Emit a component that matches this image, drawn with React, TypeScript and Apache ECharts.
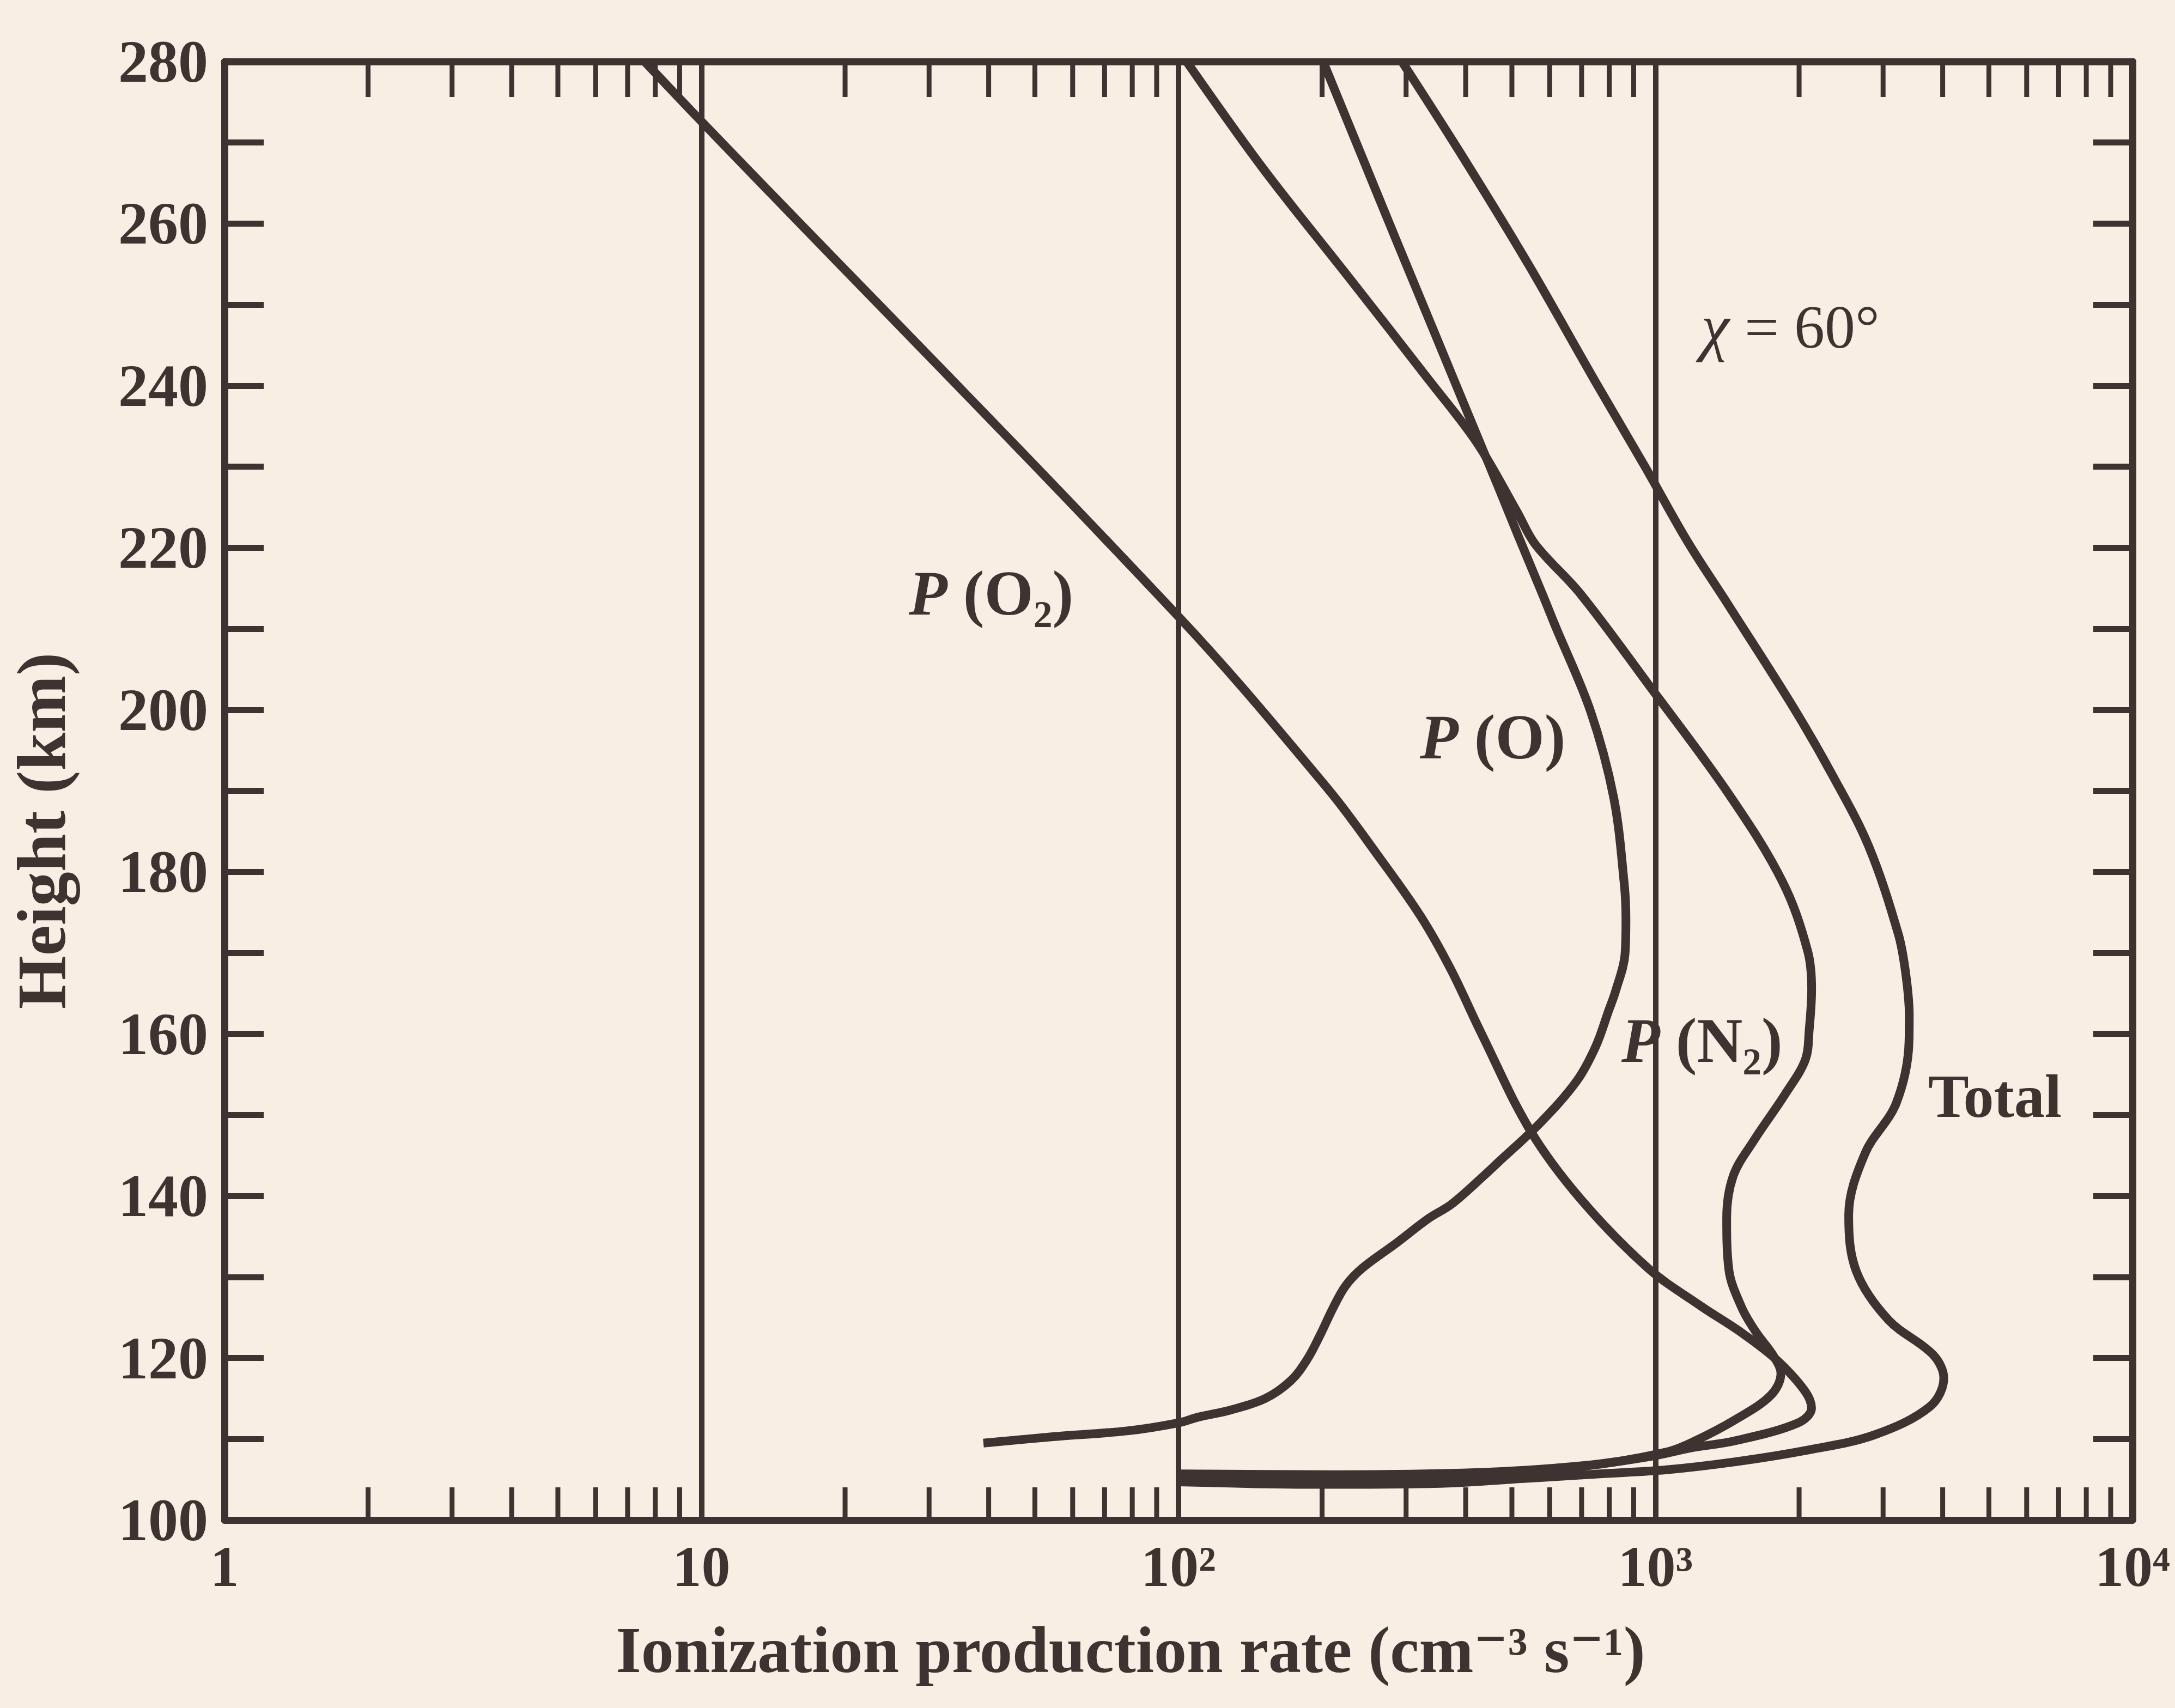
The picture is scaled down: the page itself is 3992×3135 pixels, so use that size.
import React, { useEffect, useRef } from 'react';
import * as echarts from 'echarts';

const INK = '#3d3330';
const PAPER = '#f8eee3';
const FONT = "'Liberation Serif', 'DejaVu Serif', serif";

// ---- data (rate in cm^-3 s^-1, height in km) ----
const pO2Rate = [7.6, 10, 100, 206, 262, 322, 372, 432, 546, 697, 964, 1238, 1517, 1800, 2058, 2124, 1991, 1473, 1186, 986, 729, 441, 208, 100];
const pO2Height = [280, 272.6, 211.5, 190.2, 182.0, 174.5, 168.0, 160.0, 148.1, 139.6, 131.1, 126.5, 123.1, 119.7, 115.9, 113.8, 112.0, 109.8, 108.9, 107.9, 106.8, 105.9, 105.6, 105.7];

const pORate = [201, 242, 285, 341, 420, 466, 516, 580, 614, 731, 817, 860, 867, 863, 824, 798, 750, 684, 573, 469, 435, 374, 334, 285, 243, 224, 211, 198, 186, 172, 152, 129, 110, 100, 78, 55, 39];
const pOHeight = [280, 268.4, 258.2, 247.1, 234.2, 227.8, 221.4, 214.2, 210.6, 199.8, 189.2, 178.5, 174.1, 169.8, 165.2, 162.9, 158.5, 154.2, 149.0, 144.2, 142.4, 139.0, 137.2, 134.1, 131.1, 128.9, 126.2, 122.8, 119.8, 117.2, 115.0, 113.6, 112.7, 112.0, 111.0, 110.3, 109.5];

const pN2Rate = [104, 150, 228, 336, 423, 513, 560, 696, 970, 1432, 1849, 2085, 2125, 2100, 2061, 1867, 1606, 1456, 1410, 1425, 1517, 1624, 1770, 1832, 1745, 1471, 1204, 1056, 700, 400, 200, 100];
const pN2Height = [280, 266.9, 253.3, 240.6, 232.9, 224.4, 220.4, 214.3, 203.0, 189.4, 178.7, 170.2, 165.5, 160.5, 156.8, 152.5, 146.8, 142.5, 137.3, 130.9, 126.2, 123.2, 120.2, 118.1, 115.4, 112.4, 109.7, 108.4, 106.6, 105.6, 105.2, 105.2];

const totalRate = [294, 391, 541, 748, 955, 1166, 1419, 1950, 2361, 2801, 3226, 3342, 3404, 3400, 3194, 2752, 2541, 2636, 3078, 3818, 4021, 3761, 2873, 2069, 1475, 1055, 764, 555, 344, 200, 100];
const totalHeight = [280, 268.6, 255.0, 240.5, 229.8, 220.8, 213.0, 200.2, 191.7, 183.1, 172.4, 167.7, 162.3, 159.1, 151.4, 145.3, 137.6, 130.7, 124.7, 120.4, 117.5, 114.0, 110.5, 108.6, 107.2, 106.2, 105.7, 105.2, 104.5, 104.4, 104.7];

// axis tick labels
const xTickLabels = ['1', '10', '10²', '10³', '10⁴'];
const minorMultipliers = [2, 3, 4, 5, 6, 7, 8, 9];
const decadeStarts = [1, 10, 100, 1000];
const heightMin = 100;
const heightMax = 280;

function pairs(xs: number[], ys: number[]) {
  return xs.map((x, i) => [x, ys[i]]);
}

export default function App() {
  const ref = useRef<HTMLDivElement>(null);

  useEffect(() => {
    if (!ref.current) return;
    const chart = echarts.init(ref.current, undefined, { renderer: 'svg' });

    const minorTicks: number[][] = [];
    decadeStarts.forEach((d) => minorMultipliers.forEach((m) => minorTicks.push([d * m, heightMin])));

    const lineSeries = (name: string, xs: number[], ys: number[]) => ({
      name,
      type: 'line',
      data: pairs(xs, ys),
      symbol: 'none',
      smooth: 0.35,
      clip: true,
      lineStyle: { color: INK, width: 16 },
      z: 5,
    });

    const axisLineStyle = { color: INK, width: 13 };
    const italicRich = { i: { fontStyle: 'italic', fontWeight: 'bold', fontSize: 116, fontFamily: FONT, fill: INK } };

    const option: any = {
      animation: false,
      backgroundColor: PAPER,
      grid: { left: 412, right: 78, top: 113, bottom: 345, containLabel: false },
      xAxis: [
        {
          type: 'log',
          logBase: 10,
          min: 1,
          max: 10000,
          position: 'bottom',
          axisLine: { show: true, onZero: false, lineStyle: axisLineStyle },
          axisTick: { show: false },
          axisLabel: {
            show: true,
            margin: 32,
            color: INK,
            fontFamily: FONT,
            fontSize: 106,
            fontWeight: 'bold',
            showMinLabel: true,
            showMaxLabel: true,
            formatter: (v: number) => xTickLabels[Math.round(Math.log10(v))] ?? '',
          },
          splitLine: { show: true, lineStyle: { color: INK, width: 10 } },
        },
        {
          type: 'log',
          logBase: 10,
          min: 1,
          max: 10000,
          position: 'top',
          axisLine: { show: true, onZero: false, lineStyle: axisLineStyle },
          axisTick: { show: false },
          axisLabel: { show: false },
          splitLine: { show: false },
        },
      ],
      yAxis: [
        {
          type: 'value',
          min: heightMin,
          max: heightMax,
          interval: 10,
          position: 'left',
          axisLine: { show: true, onZero: false, lineStyle: axisLineStyle },
          axisTick: { show: true, inside: true, length: 72, lineStyle: { color: INK, width: 11 } },
          axisLabel: {
            show: true,
            margin: 30,
            color: INK,
            fontFamily: FONT,
            fontSize: 110,
            fontWeight: 'bold',
            formatter: (v: number) => (v % 20 === 0 ? String(v) : ''),
          },
          splitLine: { show: false },
        },
        {
          type: 'value',
          min: heightMin,
          max: heightMax,
          interval: 10,
          position: 'right',
          axisLine: { show: true, onZero: false, lineStyle: axisLineStyle },
          axisTick: { show: true, inside: true, length: 72, lineStyle: { color: INK, width: 11 } },
          axisLabel: { show: false },
          splitLine: { show: false },
        },
      ],
      series: [
        lineSeries('P(O2)', pO2Rate, pO2Height),
        lineSeries('P(O)', pORate, pOHeight),
        lineSeries('P(N2)', pN2Rate, pN2Height),
        lineSeries('Total', totalRate, totalHeight),
        {
          type: 'custom',
          silent: true,
          clip: false,
          xAxisIndex: 0,
          yAxisIndex: 0,
          data: minorTicks,
          encode: { x: 0, y: 1 },
          z: 4,
          renderItem: (params: any, api: any) => {
            const v = api.value(0);
            const pb = api.coord([v, heightMin]);
            const pt = api.coord([v, heightMax]);
            return {
              type: 'group',
              children: [
                { type: 'line', shape: { x1: pb[0], y1: pb[1], x2: pb[0], y2: pb[1] - 60 }, style: { stroke: INK, lineWidth: 9 } },
                { type: 'line', shape: { x1: pt[0], y1: pt[1], x2: pt[0], y2: pt[1] + 65 }, style: { stroke: INK, lineWidth: 9 } },
              ],
            };
          },
        },
      ],
      graphic: [
        {
          type: 'text',
          x: 76,
          y: 1525,
          rotation: Math.PI / 2,
          style: { text: 'Height (km)', fill: INK, fontFamily: FONT, fontSize: 126, fontWeight: 'bold', align: 'center', verticalAlign: 'middle' },
        },
        {
          type: 'text',
          x: 2075,
          y: 3028,
          style: { text: 'Ionization production rate (cm⁻³ s⁻¹)', fill: INK, fontFamily: FONT, fontSize: 120, fontWeight: 'bold', align: 'center', verticalAlign: 'middle' },
        },
        {
          type: 'text',
          x: 1668,
          y: 1089,
          style: {
            text: '{i|P} (O₂)', fill: INK, fontFamily: FONT, fontSize: 116, fontWeight: 'bold', align: 'left', verticalAlign: 'middle',
            rich: italicRich,
          },
        },
        {
          type: 'text',
          x: 2606,
          y: 1353,
          style: {
            text: '{i|P} (O)', fill: INK, fontFamily: FONT, fontSize: 116, fontWeight: 'bold', align: 'left', verticalAlign: 'middle',
            rich: italicRich,
          },
        },
        {
          type: 'text',
          x: 2976,
          y: 1910,
          style: {
            text: '{i|P} (N₂)', fill: INK, fontFamily: FONT, fontSize: 116, fontWeight: 'bold', align: 'left', verticalAlign: 'middle',
            rich: italicRich,
          },
        },
        {
          type: 'text',
          x: 3539,
          y: 2012,
          style: { text: 'Total', fill: INK, fontFamily: FONT, fontSize: 112, fontWeight: 'bold', align: 'left', verticalAlign: 'middle' },
        },
        {
          type: 'text',
          x: 3122,
          y: 600,
          style: {
            text: '{i|χ} = 60°', fill: INK, fontFamily: FONT, fontSize: 112, fontWeight: 'normal', align: 'left', verticalAlign: 'middle',
            rich: { i: { fontStyle: 'italic', fontSize: 118, fontFamily: FONT, fill: INK } },
          },
        },
      ],
    };

    chart.setOption(option);
    return () => chart.dispose();
  }, []);

  return (
    <div
      ref={ref}
      style={{ position: 'fixed', left: 0, top: 0, width: '3992px', height: '3135px', background: PAPER }}
    />
  );
}
